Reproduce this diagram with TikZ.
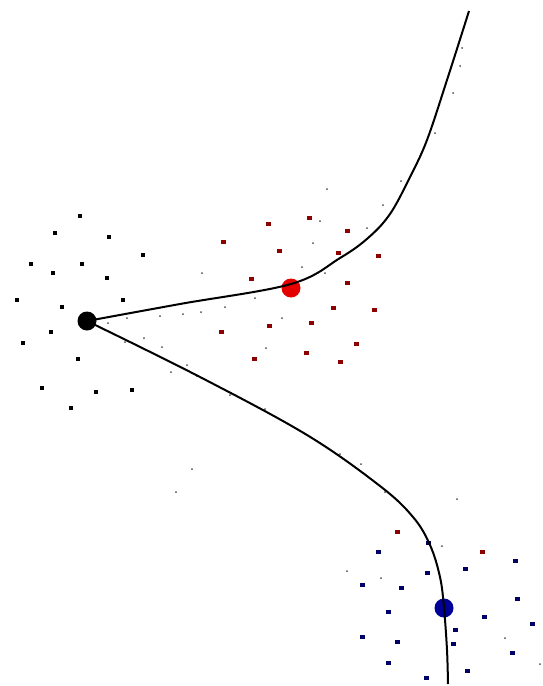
\documentclass[tikz,border=0pt]{standalone}
\begin{document}
\begin{tikzpicture}[x=1pt,y=-1pt,
  bigdot/.style={circle,inner sep=0pt,minimum size=19pt},
  bsq/.style={rectangle,fill=black,inner sep=0pt,minimum width=3.5pt,minimum height=4pt},
  rsq/.style={rectangle,fill=red!55!black,inner sep=0pt,minimum width=5pt,minimum height=3.5pt},
  usq/.style={rectangle,fill=blue!40!black,inner sep=0pt,minimum width=5pt,minimum height=3.5pt},
  speck/.style={circle,fill=black!70,inner sep=0pt,minimum size=2pt},
  curve/.style={line width=2pt,black}]
\useasboundingbox (0,0) rectangle (543,686);
% small black points
\foreach \x/\y [count=\i] in {80/216,55/233,109/237,143/255,31/264,82/264,53/273,107/278,17/300,62/307,123/300,51/332,23/343,78/359,42/388,96/392,132/390,71/408}
  \node[bsq] (k\i) at (\x,\y) {};
% small red points
\foreach \x/\y [count=\i] in {268/224,309/218,347/231,223/242,279/251,338/253,378/256,251/279,347/283,333/308,374/310,269/326,311/323,221/332,356/344,306/353,254/359,340/362,397/532,482/552}
  \node[rsq] (r\i) at (\x,\y) {};
% small blue points
\foreach \x/\y [count=\i] in {378/552,515/561,428/543,465/569,427/573,362/585,401/588,517/599,388/612,484/617,532/624,455/630,362/637,397/642,453/644,512/653,388/663,467/671,426/678}
  \node[usq] (u\i) at (\x,\y) {};
% specks
\foreach \x/\y [count=\i] in {327/189,383/205,320/221,313/243,302/267,325/273,202/273,255/298,225/307,201/312,282/318,266/348,187/365,462/48,460/66,453/93,435/133,401/181,367/228,144/338,162/347,171/372,192/469,176/492,457/499,127/318,108/323,160/316,183/314,347/571,381/578,442/546,505/638,540/664,125/342,197/376,230/395,265/409,340/454,361/464,385/492}
  \node[speck] (s\i) at (\x,\y) {};
% main points
\node[bigdot,fill=black] (black) at (87,321) {};
\node[bigdot,fill=red!90!black] (red) at (291,288) {};
\node[bigdot,fill=blue!60!black] (blue) at (444,608) {};
\coordinate (top) at (469,11);
\coordinate (bottom) at (448,684);
\coordinate (rc) at ([yshift=4pt]red.center);
% curves
\draw[curve] plot[smooth,tension=0.6] coordinates {(black.center) (180,304) (rc) (340,258) (368,238) (390,214) (410,177) (427,140) (447,80) (top)};
\draw[curve] plot[smooth,tension=0.6] coordinates {(black.center) (200,377) (307,435) (380,486) (413,517) (430,545) (440,577) (blue.center) (447,650) (bottom)};
\end{tikzpicture}
\end{document}
